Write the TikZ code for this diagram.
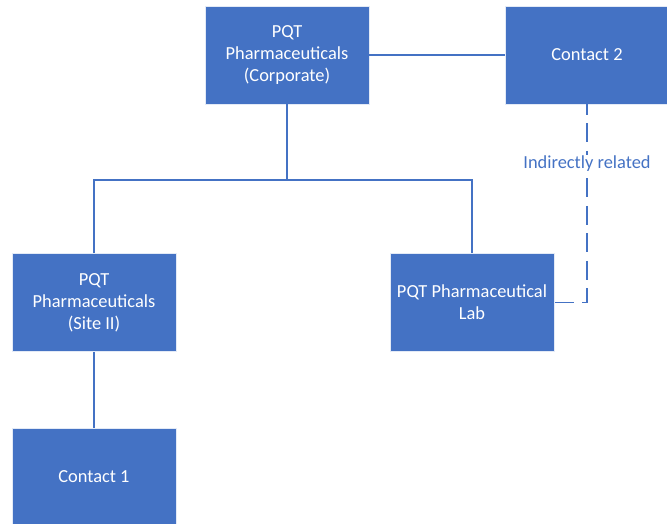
\documentclass[tikz,border=0pt]{standalone}
\usepackage{fontspec}
\setmainfont{Carlito}
\definecolor{boxblue}{HTML}{4472C4}
\begin{document}
\begin{tikzpicture}[x=1pt,y=-1pt,
  orgbox/.style={rectangle, fill=boxblue, draw=white!85!boxblue, line width=0.8pt,
    minimum width=164pt, minimum height=98pt, inner sep=0pt,
    text=white, align=center, font=\fontsize{18.4}{22}\selectfont},
  link/.style={draw=boxblue, line width=1.9pt},
  dlink/.style={link, dash pattern=on 19pt off 8.5pt, dash phase=8.5pt},
  lbl/.style={fill=white, text=boxblue, inner sep=1pt, font=\fontsize{18.4}{22}\selectfont}]
\useasboundingbox (0,0) rectangle (667,524);
\node[orgbox] (corp) at (287,55) {PQT\\Pharmaceuticals\\(Corporate)};
\node[orgbox] (c2) at (587,55) {Contact 2};
\node[orgbox] (site) at (94,302.5) {PQT\\Pharmaceuticals\\(Site II)};
\node[orgbox] (lab) at (472,302.5) {PQT Pharmaceutical\\Lab};
\node[orgbox] (c1) at (94,477) {Contact 1};
\coordinate (bus) at (287,180);
\draw[link] (corp.east) -- (c2.west);
\draw[link] (corp.south) -- (bus);
\draw[link] (site.north) |- (bus) -| (lab.north);
\draw[link] (site.south) -- (c1.north);
\coordinate (bend) at (c2.south |- lab.east);
\draw[dlink] (c2.south) -- (bend) -- (lab.east);
\node[lbl] (ind) at (587,164) {Indirectly related};
\end{tikzpicture}
\end{document}
